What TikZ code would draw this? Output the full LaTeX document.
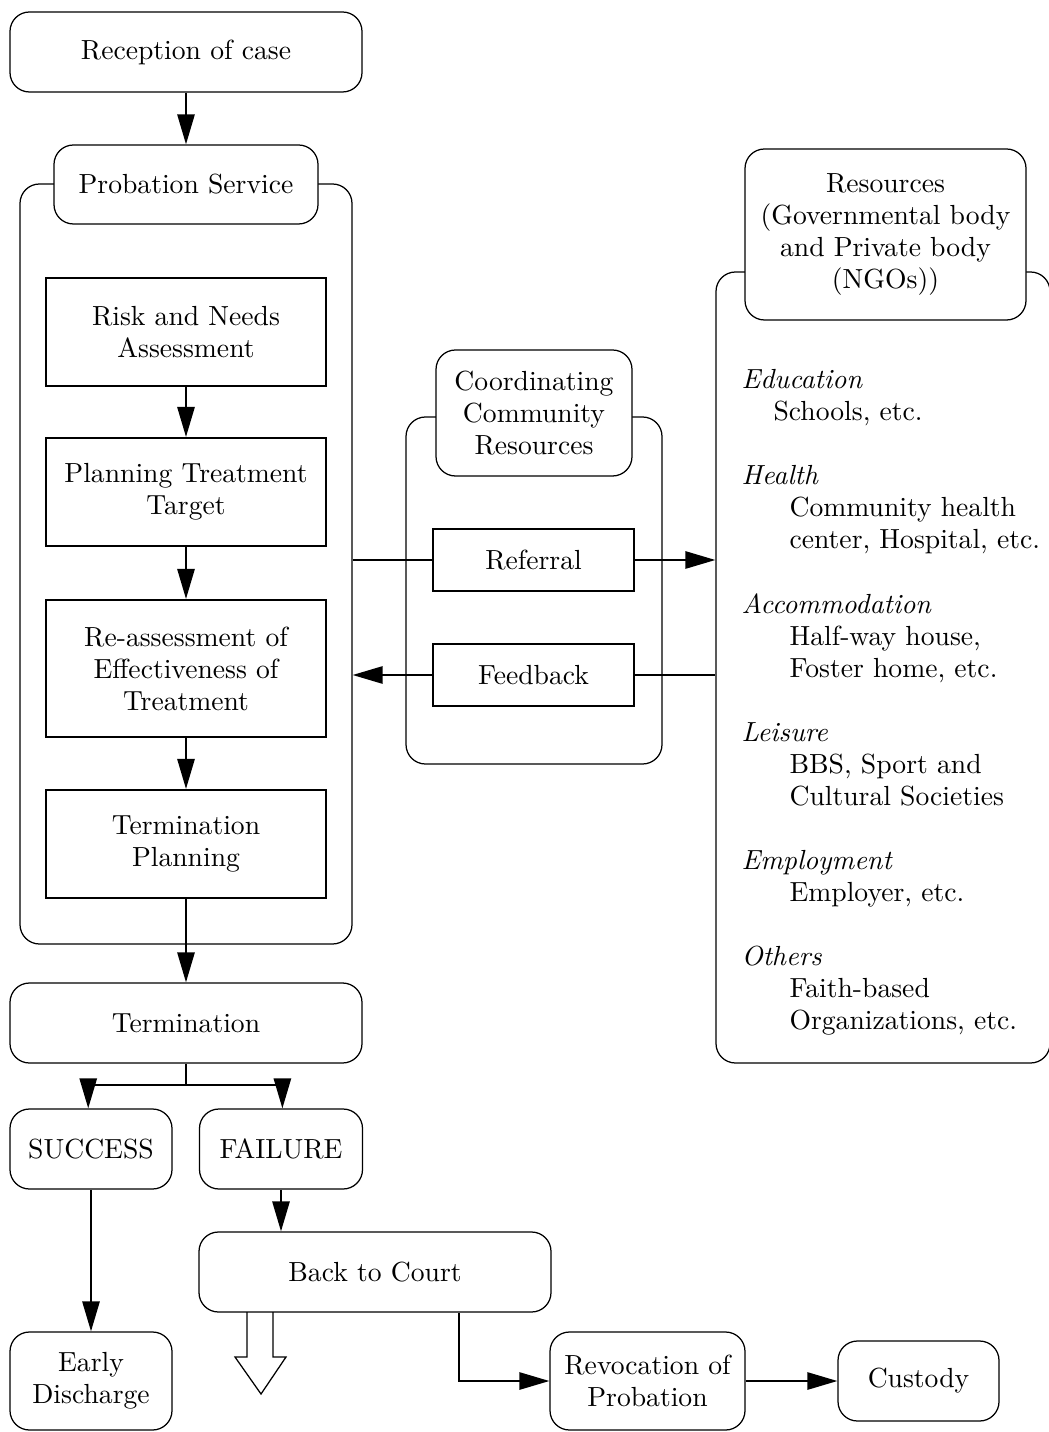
\documentclass[tikz,border=0pt]{standalone}
\usetikzlibrary{arrows.meta,calc}
\begin{document}
\begin{tikzpicture}[x=0.36pt,y=-0.36pt,
 every node/.style={font=\fontsize{9.95}{11.52}\selectfont, inner sep=0pt},
 rbox/.style={draw, line width=0.45pt, rounded corners=7pt, fill=white, align=center},
 sbox/.style={draw, line width=0.75pt, fill=white, align=center},
 cont/.style={draw, line width=0.45pt, rounded corners=7pt},
 conn/.style={line width=0.75pt},
 arr/.style={conn, -{Triangle[length=10.8pt,width=6.2pt]}},
 sz/.style 2 args={minimum width=#1*0.36pt, minimum height=#2*0.36pt},
 restxt/.style={anchor=base west}
]
\useasboundingbox (0,0) rectangle (1048,1432);

% containers
\node[cont, sz={332}{760}] (probcont) at (186,564) {};
\node[cont, sz={256}{347}] (coordcont) at (534,590.5) {};
\node[cont, sz={334}{791}] (rescont) at (883,667.5) {};

% tabs
\node[rbox, sz={264}{79}] (probtab) at (186,184.5) {Probation Service};
\node[rbox, sz={196}{126}] (coordtab) at (534,413) {Coordinating\\Community\\Resources};
\node[rbox, sz={281}{171}] (restab) at (885.5,234.5) {Resources\\(Governmental body\\and Private body\\(NGOs))};

% left column
\node[rbox, sz={352}{80}] (recep) at (186,52) {Reception of case};
\node[sbox, sz={280}{108}] (risk) at (186,332) {Risk and Needs\\Assessment};
\node[sbox, sz={280}{108}] (plan) at (186,492) {Planning Treatment\\Target};
\node[sbox, sz={280}{137}] (reass) at (186,668.5) {Re-assessment of\\Effectiveness of\\Treatment};
\node[sbox, sz={280}{108}] (termp) at (186,844) {Termination\\Planning};
\node[rbox, sz={352}{80}] (term) at (186,1023) {Termination};
\node[rbox, sz={162}{80}] (succ) at (91,1149) {SUCCESS};
\node[rbox, sz={163}{80}] (fail) at (281,1149) {FAILURE};
\node[rbox, sz={352}{80}] (court) at (375,1272) {Back to Court};
\node[rbox, sz={162}{98}] (early) at (91,1381) {Early\\Discharge};
\node[rbox, sz={195}{98}] (revoc) at (647.5,1381) {Revocation of\\Probation};
\node[rbox, sz={161}{80}] (cust) at (918.5,1381) {Custody};

% middle
\node[sbox, sz={201}{62}] (referral) at (533.5,560) {Referral};
\node[sbox, sz={201}{62}] (feedback) at (533.5,675) {Feedback};

% resources list
\node[restxt] (edu) at (741,389) {\itshape Education};
\node[restxt] (edu1) at (773,421) {Schools, etc.};
\node[restxt] (hea) at (741,485) {\itshape Health};
\node[restxt] (hea1) at (789,517) {Community health};
\node[restxt] (hea2) at (789,549) {center, Hospital, etc.};
\node[restxt] (acc) at (741,613) {\itshape Accommodation};
\node[restxt] (acc1) at (789,645) {Half-way house,};
\node[restxt] (acc2) at (789,677) {Foster home, etc.};
\node[restxt] (lei) at (741,741) {\itshape Leisure};
\node[restxt] (lei1) at (789,773) {BBS, Sport and};
\node[restxt] (lei2) at (789,805) {Cultural Societies};
\node[restxt] (emp) at (741,869) {\itshape Employment};
\node[restxt] (emp1) at (789,901) {Employer, etc.};
\node[restxt] (oth) at (741,965) {\itshape Others};
\node[restxt] (oth1) at (789,997) {Faith-based};
\node[restxt] (oth2) at (789,1029) {Organizations, etc.};

% connectors
\draw[arr] (recep.south) -- (probtab.north);
\draw[arr] (risk.south) -- (plan.north);
\draw[arr] (plan.south) -- (reass.north);
\draw[arr] (reass.south) -- (termp.north);
\draw[arr] (termp.south) -- (term.north);
\coordinate (sj) at (186,1085);
\draw[conn] (term.south) -- (sj);
\draw[arr] (sj) -| ([xshift=-1pt]succ.north);
\draw[arr] (sj) -| ([xshift=0.5pt]fail.north);
\draw[arr] (fail.south) -- (fail.south |- court.north);
\draw[arr] (succ.south) -- (succ.south |- early.north);
\draw[arr] ($(court.south)+(84,0)$) |- (revoc.west);
\draw[arr] (revoc.east) -- (cust.west);

\draw[conn] (referral.west) -- (referral.west -| probcont.east);
\draw[arr] (referral.east) -- (referral.east -| rescont.west);
\draw[conn] (feedback.east) -- (feedback.east -| rescont.west);
\draw[arr] (feedback.west) -- (feedback.west -| probcont.east);

% hollow arrow
\draw[line width=0.45pt, line join=miter] (247,1312) -- (247,1357) -- (235,1357) -- (261,1394) -- (286,1357) -- (273,1357) -- (273,1312);
\end{tikzpicture}
\end{document}
